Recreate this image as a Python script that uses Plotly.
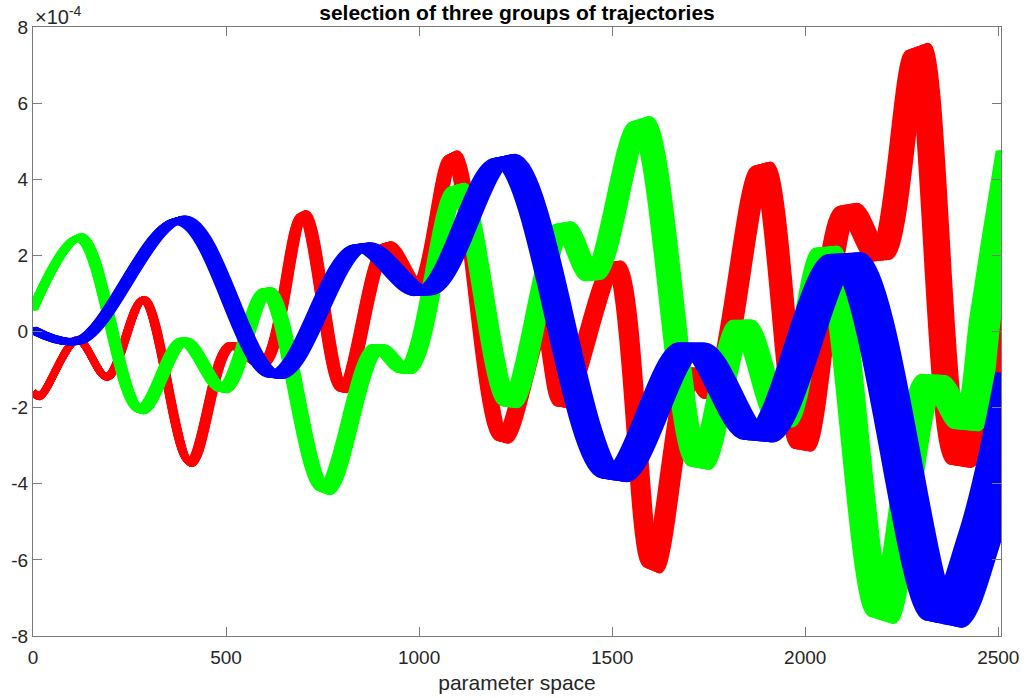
import plotly.graph_objects as go

# Centre line of each trajectory group (x in parameter space, y in units of 1e-4)
RED_X = [0, 18, 115, 192, 286, 407, 511, 596, 700, 803, 916, 997, 1087, 1217,
         1320, 1372, 1506, 1605, 1708, 1760, 1889, 1993, 2110, 2194, 2292, 2401,
         2500, 2530]
RED_Y = [-1.6, -1.69, -0.22, -1.19, 0.83, -3.43, -0.38, -0.85, 3.06, -1.51, 2.25,
         1.2, 4.61, -2.82, 0.17, -1.9, 1.75, -6.19, -1.04, -1.7, 4.32, -3.03, 3.25,
         1.95, 7.4, -3.45, -0.7, 0.6]

GREEN_X = [0, 122, 278, 390, 493, 606, 756, 891, 968, 1100, 1235, 1372, 1450,
           1575, 1726, 1837, 1940, 2055, 2199, 2329, 2417, 2468, 2500, 2535]
GREEN_Y = [0.59, 2.46, -2.06, -0.25, -1.51, 1.06, -4.16, -0.43, -1.01, 3.77, -1.9,
           2.77, 1.43, 5.5, -3.5, 0.22, -2.4, 2.14, -7.5, -1.22, -2.5, 0.5, 2.6, 4.8]

BLUE_X = [0, 122, 385, 628, 848, 1016, 1223, 1504, 1706, 1880, 2103, 2358, 2452,
          2550]
BLUE_Y = [0.04, -0.23, 2.92, -1.14, 2.22, 1.04, 4.52, -3.82, -0.38, -2.79, 1.97,
          -7.6, -5.4, -1.1]

# Spread of the trajectories inside a group: phase lag grows along x
GROUP_COLORS = ["#ff0000", "#00ff00", "#0000ff"]
LAG_BASE = [0.0, 10.0, 12.0]
LAG_RATE = [0.022, 0.022, 0.034]
AMP_SPREAD = 0.025
N_MEMBERS = 17

X_TICKS = [0, 500, 1000, 1500, 2000, 2500]
Y_TICKS = [-8, -6, -4, -2, 0, 2, 4, 6, 8]
Y_TICK_TEXT = ["-8", "-6", "-4", "-2", "0", "2", "4", "6", "8"]
SCALE = 1e-4

FONT = "Liberation Sans, Arial, Helvetica, sans-serif"
INK = "#262626"
AXIS = "#7a7a7a"

fig = go.Figure()

groups = [(RED_X, RED_Y), (GREEN_X, GREEN_Y), (BLUE_X, BLUE_Y)]
members = [i / (N_MEMBERS - 1) - 0.5 for i in range(N_MEMBERS)]

for (xs, ys), color, base, rate in zip(groups, GROUP_COLORS, LAG_BASE, LAG_RATE):
    for e in members:
        x = [xv + e * (base + rate * xv) for xv in xs]
        y = [yv * (1 + AMP_SPREAD * e) * SCALE for yv in ys]
        fig.add_trace(go.Scatter(
            x=x, y=y, mode="lines",
            line=dict(color=color, width=7, shape="spline", smoothing=1.0),
            hoverinfo="skip", showlegend=False,
        ))

axis_common = dict(
    showline=True, linecolor=AXIS, linewidth=1, mirror="ticks",
    ticks="inside", ticklen=9, tickcolor=AXIS, tickwidth=1,
    showgrid=False, zeroline=False, automargin=False,
    tickfont=dict(family=FONT, size=19, color=INK),
)

fig.update_layout(
    width=1026, height=698,
    margin=dict(l=33, r=25, t=27, b=62),
    paper_bgcolor="white", plot_bgcolor="white",
    title=dict(
        text="<b>selection of three groups of trajectories</b>",
        x=(33 + 1001) / 2 / 1026, xanchor="center", xref="container",
        y=1 - 13 / 698, yanchor="middle", yref="container",
        font=dict(family=FONT, size=21, color="#000000"),
    ),
    xaxis=dict(
        range=[0, 2507], tickvals=X_TICKS, ticklabelstandoff=4,
        title=dict(text="parameter space", standoff=8,
                   font=dict(family=FONT, size=21, color=INK)),
        **axis_common,
    ),
    yaxis=dict(
        range=[-8 * SCALE, 8 * SCALE],
        tickvals=[v * SCALE for v in Y_TICKS], ticktext=Y_TICK_TEXT,
        **axis_common,
    ),
    annotations=[dict(
        text="×10<sup>-4</sup>", x=0, y=1, xref="paper", yref="paper",
        xanchor="left", yanchor="bottom", showarrow=False, yshift=-3,
        font=dict(family=FONT, size=20, color=INK),
    )],
)

fig.write_html("out.html")
